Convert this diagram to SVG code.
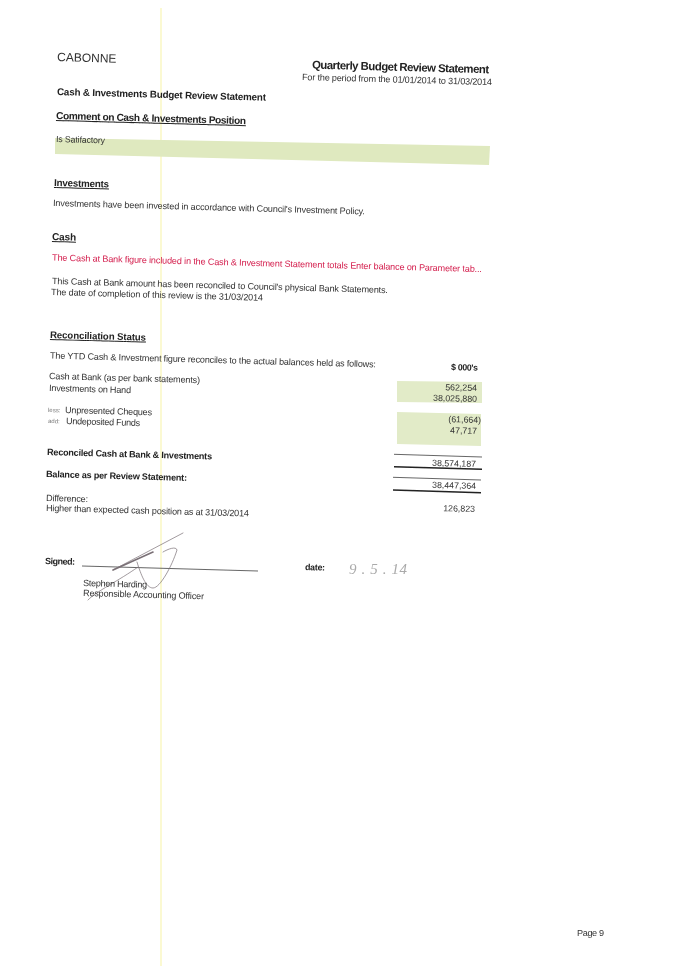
<svg xmlns="http://www.w3.org/2000/svg" width="682" height="966" viewBox="0 0 682 966">
<defs><filter id="scan" x="-2%" y="-2%" width="104%" height="104%"><feGaussianBlur stdDeviation="0.3"/></filter></defs>
<style>
text{font-family:"Liberation Sans",Arial,sans-serif;fill:#333;font-size:9.1px}
.b{font-weight:bold;fill:#222}
.u{text-decoration:underline}
.r{text-anchor:end;font-size:8.8px}
.red{fill:#d4204f}
.s{font-size:6px;fill:#777}
.band{fill:#dfe9bf}
.pale{fill:#e2ebc8}
.thin{stroke:#555;stroke-width:.9;fill:none}
.thick{stroke:#222;stroke-width:1.5;fill:none}
.sig{stroke:#7a7076;fill:none;stroke-linecap:round}
</style>
<rect width="682" height="966" fill="#fff"/>
<rect x="160" y="8" width="2" height="958" fill="#fbf9d2"/>
<g filter="url(#scan)">
<polygon class="band" points="55,138 490,146 489,165 55,154"/>
<polygon class="pale" points="397,381 482,382 482,403 397,402"/>
<polygon class="pale" points="397,412 481,414 481,446 397,444"/>
<path class="thin" d="M394,454.3L482,457M393,477.3L481,480"/>
<path class="thick" d="M394,466.7L482,469.3M393,490L481,492.7"/>
<path class="thin" d="M82,566L258,571"/>
<path class="sig" stroke-width=".7" d="M113,570L183,533M88,600C95,592 120,580 138,567M137,562C141,575 146,588 153,588C160,588 172,566 177,550C176,546 168,549 163,552"/>
<path class="sig" stroke-width="1.6" d="M113,570L153,552"/>
<text x="57" y="61" style="font-size:12px" transform="rotate(1.55 57 61)">CABONNE</text>
<text class="b" x="312" y="68.5" style="font-size:11.4px" textLength="177" transform="rotate(1.55 312 68.5)">Quarterly Budget Review Statement</text>
<text x="302" y="80" textLength="190" transform="rotate(1.55 302 80)">For the period from the 01/01/2014 to 31/03/2014</text>
<text class="b" x="57" y="95" style="font-size:9.8px" textLength="209" transform="rotate(1.55 57 95)">Cash &amp; Investments Budget Review Statement</text>
<text class="b u" x="56" y="119" style="font-size:10.1px" textLength="190" transform="rotate(1.55 56 119)">Comment on Cash &amp; Investments Position</text>
<text x="56" y="142" style="font-size:8.8px" textLength="49" transform="rotate(1.55 56 142)">Is Satifactory</text>
<text class="b u" x="54" y="186" style="font-size:9.8px" textLength="55" transform="rotate(1.55 54 186)">Investments</text>
<text x="53" y="206" textLength="312" transform="rotate(1.55 53 206)">Investments have been invested in accordance with Council's Investment Policy.</text>
<text class="b u" x="52" y="240" style="font-size:10px" textLength="24" transform="rotate(1.55 52 240)">Cash</text>
<text class="red" x="52" y="260.5" textLength="430" transform="rotate(1.55 52 260.5)">The Cash at Bank figure included in the Cash &amp; Investment Statement totals Enter balance on Parameter tab...</text>
<text x="52" y="284" textLength="336" transform="rotate(1.55 52 284)">This Cash at Bank amount has been reconciled to Council's physical Bank Statements.</text>
<text x="51" y="295" textLength="212" transform="rotate(1.55 51 295)">The date of completion of this review is the 31/03/2014</text>
<text class="b u" x="50" y="338" style="font-size:9.6px" textLength="96" transform="rotate(1.55 50 338)">Reconciliation Status</text>
<text x="50" y="358.5" textLength="326" transform="rotate(1.55 50 358.5)">The YTD Cash &amp; Investment figure reconciles to the actual balances held as follows:</text>
<text class="b" x="451" y="370" textLength="27" style="font-size:8.8px" transform="rotate(1.55 451 370)">$ 000's</text>
<text x="49" y="379" textLength="151" transform="rotate(1.55 49 379)">Cash at Bank (as per bank statements)</text>
<text x="49" y="391" textLength="82" transform="rotate(1.55 49 391)">Investments on Hand</text>
<text class="s" x="48" y="412" transform="rotate(1.55 48 412)">less:</text>
<text x="65" y="413" textLength="87" transform="rotate(1.55 65 413)">Unpresented Cheques</text>
<text class="s" x="48" y="423" transform="rotate(1.55 48 423)">add:</text>
<text x="66" y="424" textLength="74" transform="rotate(1.55 66 424)">Undeposited Funds</text>
<text class="b" x="47" y="455" style="font-size:9.1px" textLength="165" transform="rotate(1.55 47 455)">Reconciled Cash at Bank &amp; Investments</text>
<text class="b" x="46" y="477" style="font-size:9.1px" textLength="141" transform="rotate(1.55 46 477)">Balance as per Review Statement:</text>
<text x="46" y="501" textLength="42" transform="rotate(1.55 46 501)">Difference:</text>
<text x="46" y="511" textLength="203" transform="rotate(1.55 46 511)">Higher than expected cash position as at 31/03/2014</text>
<text class="r" x="477" y="391" transform="rotate(1.55 477 391)">562,254</text>
<text class="r" x="477" y="402" transform="rotate(1.55 477 402)">38,025,880</text>
<text class="r" x="481" y="423" transform="rotate(1.55 481 423)">(61,664)</text>
<text class="r" x="477" y="434" transform="rotate(1.55 477 434)">47,717</text>
<text class="r" x="476" y="467" transform="rotate(1.55 476 467)">38,574,187</text>
<text class="r" x="476" y="489" transform="rotate(1.55 476 489)">38,447,364</text>
<text class="r" x="475" y="512" transform="rotate(1.55 475 512)">126,823</text>
<text class="b" x="45" y="564" style="font-size:9px" textLength="30" transform="rotate(1.55 45 564)">Signed:</text>
<text class="b" x="305" y="570" style="font-size:8.8px" textLength="20" transform="rotate(1.55 305 570)">date:</text>
<text x="83" y="586" textLength="64" transform="rotate(1.55 83 586)">Stephen Harding</text>
<text x="83" y="596" textLength="121" transform="rotate(1.55 83 596)">Responsible Accounting Officer</text>
<text x="349" y="574" textLength="58" style="font-family:'Liberation Serif',serif;font-style:italic;font-size:15px;fill:#aaa">9 . 5 . 14</text>
<text x="577" y="936" textLength="27">Page 9</text>
</g>
</svg>
